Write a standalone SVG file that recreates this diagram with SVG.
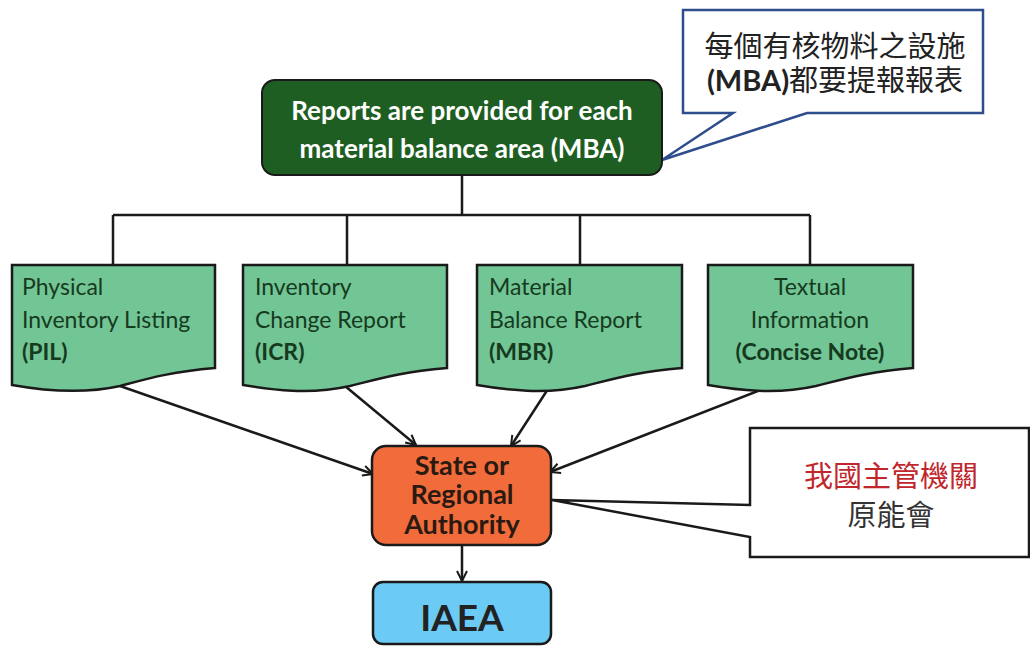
<svg xmlns="http://www.w3.org/2000/svg" width="1030" height="647" viewBox="0 0 1030 647">
<style>
.doc{fill:#72c594;stroke:#1a1a1a;stroke-width:2.5}
.dt{font-family:Lato,"Open Sans",sans-serif;font-size:23px;fill:#163a20}
.dtb{font-weight:bold}
.ln{stroke:#1a1a1a;stroke-width:2.5;fill:none}
.ar{stroke:#1a1a1a;stroke-width:2.5;fill:none;marker-end:url(#ah)}
.cjk{font-family:"Noto Sans CJK TC","Noto Sans CJK SC",sans-serif}
.au{font-family:Lato,sans-serif;font-weight:bold;font-size:27px;fill:#2a1a12}
.mb{font-family:Lato,sans-serif;font-weight:bold;font-size:26px;fill:#ffffff}
</style>
<defs>
<marker id="ah" viewBox="0 0 12 12" refX="11" refY="6" markerWidth="12" markerHeight="12" markerUnits="userSpaceOnUse" orient="auto">
<path d="M1,1 L11,6 L1,11" fill="none" stroke="#1a1a1a" stroke-width="2"/>
</marker>
</defs>
<rect width="1030" height="647" fill="#ffffff"/>

<g id="connectors">
<path class="ln" d="M462,175 V215 M113,215 H810 M113,215 V265 M347,215 V265 M580,215 V265 M810,215 V265"/>
<path class="ar" d="M120,386 L373,474"/>
<path class="ar" d="M345,386 L416,445"/>
<path class="ar" d="M548,389 L511,446"/>
<path class="ar" d="M768,387 L550,472"/>
<path class="ar" d="M462,545 V581"/>
</g>

<g id="callout-top">
<path d="M683,10 H983 V113 H807 L662,160 L733,113 H683 Z" fill="#ffffff" stroke="#2e4d8c" stroke-width="2.5" stroke-linejoin="miter"/>
<text x="835" y="57" text-anchor="middle" class="cjk" font-size="29" fill="#222">每個有核物料之設施</text>
<text x="835" y="91" text-anchor="middle" font-size="29" fill="#222"><tspan font-family="Lato,sans-serif" font-weight="bold">(MBA)</tspan><tspan class="cjk">都要提報報表</tspan></text>
</g>

<g id="mba">
<rect x="262" y="80" width="400" height="95" rx="13" fill="#1f5e22" stroke="#1a1a1a" stroke-width="2"/>
<text class="mb" x="462" y="120" text-anchor="middle">Reports are provided for each</text>
<text class="mb" x="462" y="158" text-anchor="middle">material balance area (MBA)</text>
</g>

<g id="pil">
<path class="doc" d="M12,265 H215 V368 C170,372 150,378 120,386 C80,395 40,390 12,385 Z"/>
<text class="dt" x="22" y="295">Physical</text>
<text class="dt" x="22" y="328">Inventory Listing</text>
<text class="dt dtb" x="22" y="360">(PIL)</text>
</g>
<g id="icr">
<path class="doc" d="M243,265 H447 V368 C402,372 382,378 350,386 C310,395 272,390 243,385 Z"/>
<text class="dt" x="255" y="295">Inventory</text>
<text class="dt" x="255" y="328">Change Report</text>
<text class="dt dtb" x="255" y="360">(ICR)</text>
</g>
<g id="mbr">
<path class="doc" d="M477,265 H682 V368 C637,372 617,378 585,386 C545,395 506,390 477,385 Z"/>
<text class="dt" x="489" y="295">Material</text>
<text class="dt" x="489" y="328">Balance Report</text>
<text class="dt dtb" x="489" y="360">(MBR)</text>
</g>
<g id="textual">
<path class="doc" d="M708,265 H913 V368 C868,372 848,378 816,386 C776,395 737,390 708,385 Z"/>
<text class="dt" x="810" y="295" text-anchor="middle">Textual</text>
<text class="dt" x="810" y="328" text-anchor="middle">Information</text>
<text class="dt dtb" x="810" y="360" text-anchor="middle">(Concise Note)</text>
</g>

<g id="authority">
<rect x="372" y="446" width="179" height="99" rx="14" fill="#f26c3b" stroke="#1a1a1a" stroke-width="2.5"/>
<text class="au" x="462" y="475" text-anchor="middle">State or</text>
<text class="au" x="462" y="504" text-anchor="middle">Regional</text>
<text class="au" x="462" y="534" text-anchor="middle">Authority</text>
</g>

<g id="callout-right">
<path d="M750,428 H1029 V557 H750 V537 L552,500 L750,505 Z" fill="#ffffff" stroke="#1a1a1a" stroke-width="2.5"/>
<text x="891" y="487" text-anchor="middle" class="cjk" font-size="29" fill="#c0272d">我國主管機關</text>
<text x="891" y="526" text-anchor="middle" class="cjk" font-size="29" fill="#333333">原能會</text>
</g>

<g id="iaea">
<rect x="373" y="582" width="178" height="62" rx="10" fill="#6ccbf4" stroke="#1a1a1a" stroke-width="2.5"/>
<text x="462" y="631" text-anchor="middle" font-family="Lato,sans-serif" font-weight="bold" font-size="37" fill="#222222">IAEA</text>
</g>
</svg>
